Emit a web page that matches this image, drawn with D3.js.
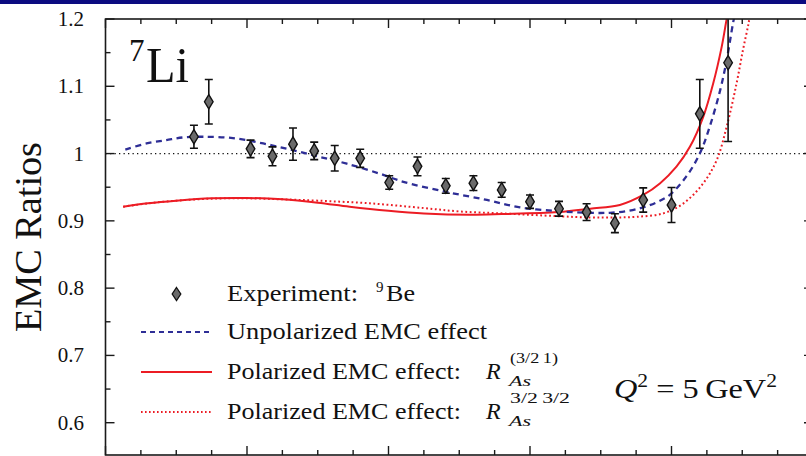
<!DOCTYPE html>
<html><head><meta charset="utf-8">
<script src="https://cdn.jsdelivr.net/npm/d3@7"></script>
<style>
body{margin:0;background:#fff}
svg{display:block}
text{font-family:"Liberation Serif","DejaVu Serif",serif;fill:#111}
</style>
</head><body>
<svg id="c" width="806" height="456"></svg>
<script>
// ---- data ----
const expX   = [0.125,0.146,0.205,0.236,0.265,0.295,0.324,0.360,0.401,0.441,0.481,0.520,0.560,0.600,0.641,0.680,0.720,0.760,0.800,0.840,0.880];
const expY   = [1.025,1.077,1.007,0.996,1.014,1.004,0.993,0.993,0.957,0.981,0.952,0.956,0.946,0.9285,0.918,0.913,0.8965,0.931,0.9236,1.059,1.135];
const expErr = [0.017,0.033,0.013,0.014,0.024,0.013,0.019,0.0135,0.010,0.014,0.011,0.011,0.011,0.010,0.011,0.0125,0.014,0.018,0.026,0.051,0.117];

const unpolX = [0.028,0.058,0.086,0.11,0.138,0.18,0.223,0.265,0.303,0.341,0.388,0.421,0.482,0.539,0.586,0.638,0.68,0.713,0.74,0.76,0.78,0.798,0.821,0.84,0.854,0.869,0.878,0.887,0.892];
const unpolY = [1.006,1.015,1.020,1.024,1.025,1.023,1.015,1.005,0.995,0.985,0.970,0.958,0.943,0.931,0.920,0.9145,0.912,0.912,0.915,0.920,0.928,0.939,0.966,1.000,1.040,1.095,1.139,1.194,1.22];

const polX = [0.025,0.06,0.10,0.15,0.20,0.25,0.30,0.345,0.40,0.45,0.515,0.56,0.64,0.685,0.727,0.76,0.784,0.807,0.826,0.845,0.859,0.871,0.878,0.882];
const polY = [0.921,0.926,0.930,0.9335,0.934,0.932,0.927,0.921,0.915,0.911,0.909,0.910,0.913,0.918,0.9236,0.9385,0.956,0.9805,1.010,1.055,1.1045,1.159,1.20,1.22];

const pol2X = [0.025,0.06,0.10,0.15,0.20,0.25,0.30,0.374,0.45,0.50,0.562,0.638,0.685,0.72,0.751,0.788,0.817,0.845,0.864,0.878,0.892,0.901,0.909,0.913];
const pol2Y = [0.921,0.926,0.930,0.933,0.9335,0.932,0.930,0.926,0.919,0.914,0.911,0.907,0.905,0.905,0.906,0.911,0.926,0.956,0.9905,1.040,1.1045,1.154,1.194,1.22];

const yTickVals = [0.6,0.7,0.8,0.9,1.0,1.1,1.2];
const yTickLabels = ["0.6","0.7","0.8","0.9","1","1.1","1.2"];

// ---- layout ----
const svg = d3.select("#c");
const x = d3.scaleLinear().domain([0,1]).range([105.5,813]);
const y = d3.scaleLinear().domain([0.552,1.2]).range([455,19]);

const NAVY="#0b0b80", BLUE="#2e2e96", RED="#ec1c24";

svg.append("rect").attr("x",0).attr("y",0).attr("width",806).attr("height",4).attr("fill",NAVY);

svg.append("defs").append("clipPath").attr("id","clip")
  .append("rect").attr("x",x(0)).attr("y",y(1.2)).attr("width",x(1)-x(0)).attr("height",y(0.552)-y(1.2));

const plot = svg.append("g").attr("clip-path","url(#clip)");

plot.append("line").attr("x1",x(0)).attr("x2",x(1)).attr("y1",y(1)).attr("y2",y(1))
  .attr("stroke","#111").attr("stroke-width",1.3).attr("stroke-dasharray","1.3,3.2");

const line = d3.line().x(d=>x(d[0])).y(d=>y(d[1])).curve(d3.curveCatmullRom.alpha(0.5));

plot.append("path").datum(d3.zip(pol2X,pol2Y)).attr("d",line).attr("fill","none")
  .attr("stroke",RED).attr("stroke-width",2).attr("stroke-dasharray","1.8,2.6");
plot.append("path").datum(d3.zip(polX,polY)).attr("d",line).attr("fill","none")
  .attr("stroke",RED).attr("stroke-width",2);
plot.append("path").datum(d3.zip(unpolX,unpolY)).attr("d",line).attr("fill","none")
  .attr("stroke",BLUE).attr("stroke-width",2.3).attr("stroke-dasharray","6,4.5");

const pts = plot.selectAll("g.pt").data(d3.range(expX.length)).join("g").attr("class","pt");
pts.append("line").attr("x1",i=>x(expX[i])).attr("x2",i=>x(expX[i]))
  .attr("y1",i=>y(expY[i]-expErr[i])).attr("y2",i=>y(expY[i]+expErr[i]))
  .attr("stroke","#111").attr("stroke-width",1.6);
[-1,1].forEach(s=>{
  pts.append("line").attr("x1",i=>x(expX[i])-4).attr("x2",i=>x(expX[i])+4)
    .attr("y1",i=>y(expY[i]+s*expErr[i])).attr("y2",i=>y(expY[i]+s*expErr[i]))
    .attr("stroke","#111").attr("stroke-width",1.6);
});
const diamond = (cx,cy,w,h)=>`M${cx},${cy-h}L${cx+w},${cy}L${cx},${cy+h}L${cx-w},${cy}Z`;
pts.append("path").attr("d",i=>diamond(x(expX[i]),y(expY[i]),4.3,7.2))
  .attr("fill","#6a6a6a").attr("stroke","#111").attr("stroke-width",1.4);

// frame
const frame = svg.append("g").attr("stroke","#1a1a1a").attr("stroke-width",1.6).attr("fill","none");
frame.append("rect").attr("x",x(0)).attr("y",y(1.2)).attr("width",x(1)-x(0)).attr("height",y(0.552)-y(1.2));

const xt = d3.range(0,1.0001,0.05);
xt.forEach(v=>{
  const major = Math.abs(v*5-Math.round(v*5))<1e-6;
  const L = major?9:5;
  frame.append("line").attr("x1",x(v)).attr("x2",x(v)).attr("y1",y(1.2)).attr("y2",y(1.2)+L).attr("stroke-width",1.4);
  frame.append("line").attr("x1",x(v)).attr("x2",x(v)).attr("y1",y(0.552)).attr("y2",y(0.552)-L).attr("stroke-width",1.4);
});
const yt = d3.range(0.6,1.2001,0.05);
yt.forEach(v=>{
  const major = Math.abs(v*10-Math.round(v*10))<1e-6;
  const L = major?9:5;
  frame.append("line").attr("x1",x(0)).attr("x2",x(0)+L).attr("y1",y(v)).attr("y2",y(v)).attr("stroke-width",1.4);
  frame.append("line").attr("x1",x(1)).attr("x2",x(1)-L).attr("y1",y(v)).attr("y2",y(v)).attr("stroke-width",1.4);
});

// y labels
svg.selectAll("text.yl").data(yTickVals).join("text").attr("class","yl")
  .attr("x",84).attr("y",v=>y(v)+7).attr("text-anchor","end").attr("font-size",21)
  .text((v,i)=>yTickLabels[i]);

// axis title
svg.append("text").attr("transform",`translate(41,237) rotate(-90)`).attr("text-anchor","middle")
  .attr("font-size",38).attr("textLength",190).attr("lengthAdjust","spacingAndGlyphs").text("EMC Ratios");

// nucleus label
svg.append("text").attr("x",129).attr("y",61).attr("font-size",31).text("7");
svg.append("text").attr("x",146).attr("y",82).attr("font-size",51).attr("textLength",43).attr("lengthAdjust","spacingAndGlyphs").text("Li");

// legend
const lx0=141, lx1=212, tx=227, rows=[294,332,372,412];
svg.append("path").attr("d",diamond(176.5,rows[0],4.3,6.5)).attr("fill","#6a6a6a").attr("stroke","#111").attr("stroke-width",1.3);
svg.append("line").attr("x1",lx0).attr("x2",lx1).attr("y1",rows[1]).attr("y2",rows[1]).attr("stroke",BLUE).attr("stroke-width",2).attr("stroke-dasharray","5,4");
svg.append("line").attr("x1",lx0).attr("x2",lx1).attr("y1",rows[2]).attr("y2",rows[2]).attr("stroke",RED).attr("stroke-width",2);
svg.append("line").attr("x1",lx0).attr("x2",lx1).attr("y1",rows[3]).attr("y2",rows[3]).attr("stroke",RED).attr("stroke-width",1.8).attr("stroke-dasharray","1.6,2.4");

const fs=23;
const fit = (sel,len)=>sel.attr("textLength",len).attr("lengthAdjust","spacingAndGlyphs");
fit(svg.append("text").attr("x",tx).attr("y",rows[0]+7).attr("font-size",fs).text("Experiment:"),131);
svg.append("text").attr("x",376).attr("y",rows[0]-2).attr("font-size",15).text("9");
fit(svg.append("text").attr("x",386).attr("y",rows[0]+7).attr("font-size",fs).text("Be"),29);
fit(svg.append("text").attr("x",tx).attr("y",rows[1]+7).attr("font-size",fs).text("Unpolarized EMC effect"),260);
[[rows[2],"(3/2\u20091)",48],[rows[3],"3/2\u20093/2",60]].forEach(([ry,sup,sl])=>{
  fit(svg.append("text").attr("x",tx).attr("y",ry+7).attr("font-size",fs).text("Polarized EMC effect:"),234);
  svg.append("text").attr("x",486).attr("y",ry+7).attr("font-size",24).attr("font-style","italic").text("R");
  fit(svg.append("text").attr("x",510).attr("y",ry-9).attr("font-size",15).text(sup),sl);
  fit(svg.append("text").attr("x",509).attr("y",ry+14).attr("font-size",15).attr("font-style","italic").text("As"),22);
});

// Q^2 annotation
const q = svg.append("text").attr("x",614).attr("y",398).attr("font-size",27)
  .attr("textLength",163).attr("lengthAdjust","spacingAndGlyphs");
q.append("tspan").attr("font-style","italic").text("Q");
q.append("tspan").attr("font-size",18).attr("dy",-11).text("2");
q.append("tspan").attr("dy",11).text(" = 5\u2009GeV");
q.append("tspan").attr("font-size",18).attr("dy",-11).text("2");
</script>
</body></html>
